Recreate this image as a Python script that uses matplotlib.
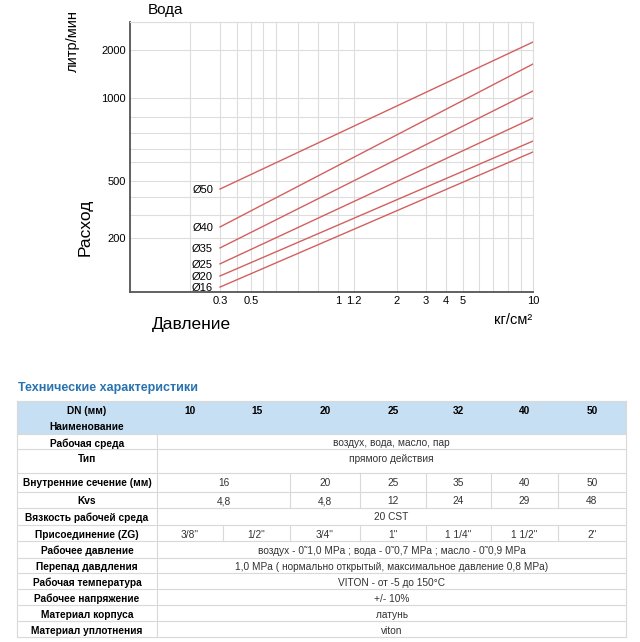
import numpy as np
import matplotlib
matplotlib.use('Agg')
import matplotlib.pyplot as plt
from matplotlib.ticker import FixedLocator, FixedFormatter, NullFormatter
from matplotlib.patches import Rectangle

plt.rcParams['font.family'] = ['Liberation Sans', 'DejaVu Sans']

# --- график: расход воды от давления ---
diametry = ['Ø50', 'Ø40', 'Ø35', 'Ø25', 'Ø20', 'Ø16']
davlenie = [0.3, 10]                       # кг/см2, начало и конец линий
rashod_start = [447, 243, 169, 129, 105, 87]      # литр/мин при 0.3
rashod_end = [2245, 1634, 1107, 893, 748, 676]    # литр/мин при 10

x_ticks = [0.3, 0.5, 1, 1.2, 2, 3, 4, 5, 10]
x_tick_labels = ['0.3', '0.5', '1', '1.2', '2', '3', '4', '5', '10']
y_ticks = [200, 500, 1000, 2000]
y_tick_labels = ['200', '500', '1000', '2000']

# сетка на картинке не строго логарифмическая -> своя шкала по линиям сетки
x_grid = [0.1, 0.2, 0.3, 0.4, 0.5, 0.6, 0.7, 0.8, 0.9, 1, 2, 3, 4, 5, 6, 7, 8, 9, 10]
x_grid_px = [130, 190, 220, 237, 251, 263, 276, 298, 318, 338, 397, 426, 446, 463, 479, 493, 508, 521, 533]
y_grid = [80, 200, 300, 400, 500, 600, 700, 800, 900, 1000, 2000, 3000]
y_grid_px = [292, 238, 215, 197, 181, 162, 149, 133, 117, 98, 50, 22]

# --- таблица ---
dn_mm = ['10', '15', '20', '25', '32', '40', '50']
param_names = ['Рабочая среда', 'Тип', 'Внутренние сечение (мм)', 'Kvs',
               'Вязкость рабочей среда', 'Присоединение (ZG)', 'Рабочее давление',
               'Перепад давдления', 'Рабочая температура', 'Рабочее напряжение',
               'Материал корпуса', 'Материал уплотнения']
param_values = [
    ['воздух, вода, масло, пар'],
    ['прямого действия'],
    ['16', '20', '25', '35', '40', '50'],
    ['4,8', '4,8', '12', '24', '29', '48'],
    ['20 CST'],
    ['3/8"', '1/2"', '3/4"', '1"', '1 1/4"', '1 1/2"', '2"'],
    ['воздух - 0˜1,0 MPa ; вода - 0˜0,7 MPa ; масло - 0˜0,9 MPa'],
    ['1,0 MPa ( нормально открытый, максимальное давление 0,8 MPa)'],
    ['VITON - от -5 до 150°C'],
    ['+/- 10%'],
    ['латунь'],
    ['viton'],
]


W, H = 640, 642
def fx(x):
    return x / W
def fy(y):
    return 1 - y / H

lx = np.log10(x_grid)
ly = np.log10(y_grid)
def x_fwd(v):
    return np.interp(np.log10(np.clip(v, 1e-6, None)), lx, x_grid_px)
def x_inv(p):
    return 10 ** np.interp(p, x_grid_px, lx)
def y_fwd(v):
    return np.interp(np.log10(np.clip(v, 1e-6, None)), ly, -np.array(y_grid_px))
def y_inv(p):
    return 10 ** np.interp(p, -np.array(y_grid_px), ly)

fig = plt.figure(figsize=(6.4, 6.42), dpi=100)

# таблица рисуется в пикселях на отдельных осях
tab = fig.add_axes([0, 0, 1, 1])
tab.set_xlim(0, W)
tab.set_ylim(H, 0)
tab.axis('off')
tab.patch.set_visible(False)

col_edges = [17, 157, 223, 290, 360, 426, 491, 558, 626]
row_edges = [401, 418, 434, 449, 473, 492, 508, 525, 541, 558, 573, 589, 605, 621, 637]
gris = '#d9d9d9'
azul = '#c6dff3'
fs = 7.3

tab.text(18, 386, 'Технические характеристики', fontsize=9, fontweight='bold',
         color='#2872b0', va='center_baseline', ha='left')

tab.add_patch(Rectangle((col_edges[0], row_edges[0]), col_edges[-1] - col_edges[0],
                        row_edges[2] - row_edges[0], facecolor=azul, edgecolor='none'))
tab.text((col_edges[0] + col_edges[1]) / 2, 410, 'DN (мм)', fontsize=fs, fontweight='bold',
         ha='center', va='center_baseline')
for i, d in enumerate(dn_mm):
    tab.text((col_edges[i + 1] + col_edges[i + 2]) / 2, 410, d, fontsize=fs,
             fontweight='bold', ha='center', va='center_baseline')
tab.text((col_edges[0] + col_edges[1]) / 2, 426, 'Наименование', fontsize=fs,
         fontweight='bold', ha='center', va='center_baseline')

for r, (nombre, vals) in enumerate(zip(param_names, param_values)):
    top = row_edges[r + 2]
    bot = row_edges[r + 3]
    ty = top + 8.5
    tab.text((col_edges[0] + col_edges[1]) / 2, ty, nombre, fontsize=fs,
             fontweight='bold', ha='center', va='center_baseline')
    if len(vals) == 1:
        spans = [7]
    elif len(vals) == 6:
        spans = [2, 1, 1, 1, 1, 1]
    else:
        spans = [1] * 7
    c = 1
    for v, s in zip(vals, spans):
        x0 = col_edges[c]
        x1 = col_edges[c + s]
        tab.text((x0 + x1) / 2, ty, v, fontsize=fs, color='#333333',
                 ha='center', va='center_baseline')
        if c > 1:
            tab.plot([x0, x0], [top, bot], color=gris, lw=0.8)
        c += s
    tab.plot([col_edges[0], col_edges[-1]], [bot, bot], color=gris, lw=0.8)

tab.plot([col_edges[1], col_edges[1]], [row_edges[2], row_edges[-1]], color=gris, lw=0.8)
tab.plot([col_edges[0], col_edges[0]], [row_edges[0], row_edges[-1]], color=gris, lw=0.8)
tab.plot([col_edges[-1], col_edges[-1]], [row_edges[0], row_edges[-1]], color=gris, lw=0.8)
tab.plot([col_edges[0], col_edges[-1]], [row_edges[0], row_edges[0]], color=gris, lw=0.8)
tab.plot([col_edges[0], col_edges[-1]], [row_edges[2], row_edges[2]], color=gris, lw=0.8)

# --- график ---
ax = fig.add_axes([fx(130), fy(292), fx(533) - fx(130), fy(22) - fy(292)])
ax.set_xscale('function', functions=(x_fwd, x_inv))
ax.set_yscale('function', functions=(y_fwd, y_inv))
ax.set_xlim(0.1, 10)
ax.set_ylim(80, 3000)

for i in range(len(diametry)):
    ax.plot(davlenie, [rashod_start[i], rashod_end[i]], color='#d2605e', lw=1)
    ax.annotate(diametry[i], xy=(davlenie[0], rashod_start[i]), xytext=(-5, -1),
                textcoords='offset points', ha='right', va='center', fontsize=8)

ax.xaxis.set_major_locator(FixedLocator(x_ticks))
ax.xaxis.set_major_formatter(FixedFormatter(x_tick_labels))
ax.xaxis.set_minor_locator(FixedLocator(x_grid))
ax.xaxis.set_minor_formatter(NullFormatter())
ax.yaxis.set_major_locator(FixedLocator(y_ticks))
ax.yaxis.set_major_formatter(FixedFormatter(y_tick_labels))
ax.yaxis.set_minor_locator(FixedLocator(y_grid))
ax.yaxis.set_minor_formatter(NullFormatter())
ax.tick_params(which='both', length=0, labelsize=8, pad=3)
ax.grid(True, which='both', color='#dddddd', lw=0.8)
ax.set_axisbelow(True)
for s in ['top', 'right']:
    ax.spines[s].set_color('#dddddd')
    ax.spines[s].set_linewidth(0.8)
for s in ['left', 'bottom']:
    ax.spines[s].set_color('#555555')
    ax.spines[s].set_linewidth(1.3)

fig.text(fx(148), fy(10), 'Вода', fontsize=11, ha='left', va='center')
fig.text(fx(73), fy(41), 'литр/мин', fontsize=10.5, rotation=90, ha='center', va='center')
fig.text(fx(85), fy(227), 'Расход', fontsize=12.5, rotation=90, ha='center', va='center')
fig.text(fx(152), fy(325), 'Давление', fontsize=12.5, ha='left', va='center')
fig.text(fx(532), fy(320), 'кг/см²', fontsize=10.5, ha='right', va='center')

fig.savefig('out.png', dpi=100)
